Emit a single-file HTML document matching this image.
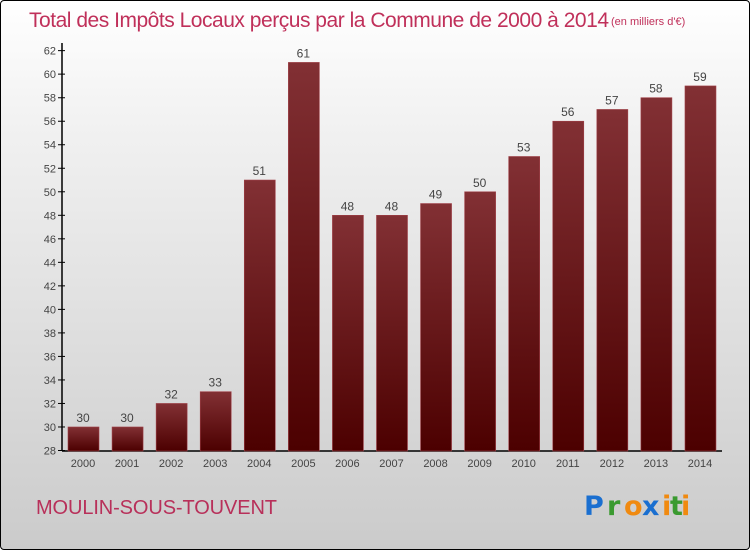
<!DOCTYPE html>
<html><head><meta charset="utf-8"><style>
body{margin:0;}
#wrap{position:relative;width:748px;height:548px;border:1px solid #000;border-radius:4px;background:linear-gradient(#ffffff,#f0f0f0 25%,#cbcbcb);font-family:"Liberation Sans",sans-serif;overflow:hidden}
</style></head><body>
<div id="wrap">
<svg id="chart" width="748" height="548">
<defs><linearGradient id="bg" x1="0" y1="0" x2="0" y2="1"><stop offset="0" stop-color="#823034"/><stop offset="1" stop-color="#4c0000"/></linearGradient></defs>
<text x="28" y="26" font-size="21" fill="#c0305a" font-weight="300" textLength="580">Total des Impôts Locaux perçus par la Commune de 2000 à 2014</text>
<text x="610" y="24" font-size="11" fill="#c0305a">(en milliers d'€)</text>
<text x="35" y="513" font-size="20" fill="#b8305a" textLength="241">MOULIN-SOUS-TOUVENT</text>
<g font-size="27" font-weight="bold" font-family="'DejaVu Sans',sans-serif">
<text x="583" y="514" fill="#1a6fd0">P</text><text x="606" y="514" fill="#3a9a30">r</text><text x="623" y="514" fill="#f08a10">o</text><text x="641" y="514" fill="#1a6fd0">x</text><text x="661" y="514" fill="#f08a10">i</text><text x="669" y="514" fill="#3a9a30">t</text><text x="680" y="514" fill="#f08a10">i</text>
</g>
<g id="plot"></g>
</svg></div>
<script>
const categories=["2000","2001","2002","2003","2004","2005","2006","2007","2008","2009","2010","2011","2012","2013","2014"];
const values=[30,30,32,33,51,61,48,48,49,50,53,56,57,58,59];
const yTicks=[28,30,32,34,36,38,40,42,44,46,48,50,52,54,56,58,60,62];
const NS="http://www.w3.org/2000/svg";
const g=document.getElementById('plot');
const y=v=>449.5-(v-28)*11.76;
const x=i=>82+i*44.07;
function el(t,a){const e=document.createElementNS(NS,t);for(const k in a)e.setAttribute(k,a[k]);g.appendChild(e);return e;}
const ax=el('line',{x1:61,y1:42,x2:61,y2:450,stroke:'#000','stroke-width':1.5});


const bx=el('line',{x1:61,y1:450,x2:721,y2:450,stroke:'#000','stroke-width':1.5});


yTicks.forEach(v=>{
 el('line',{x1:57,x2:64,y1:y(v),y2:y(v),stroke:'#000'});
 const t=el('text',{x:55,y:y(v)+4,'text-anchor':'end','font-size':11,fill:'#444'});
 t.textContent=v;
 
 
});
categories.forEach((c,i)=>{
 const b=el('rect',{x:x(i)-15,y:y(values[i]),width:31,height:450-y(values[i]),fill:'url(#bg)',stroke:'#a04048','stroke-width':0.6});
 
 
 const l=el('text',{x:x(i),y:y(values[i])-5,'text-anchor':'middle','font-size':12,fill:'#444'});
 l.textContent=values[i];
 
 
 const t=el('text',{x:x(i),y:466,'text-anchor':'middle','font-size':11,fill:'#444'});
 t.textContent=c;
 
 
});
</script>
</body></html>
